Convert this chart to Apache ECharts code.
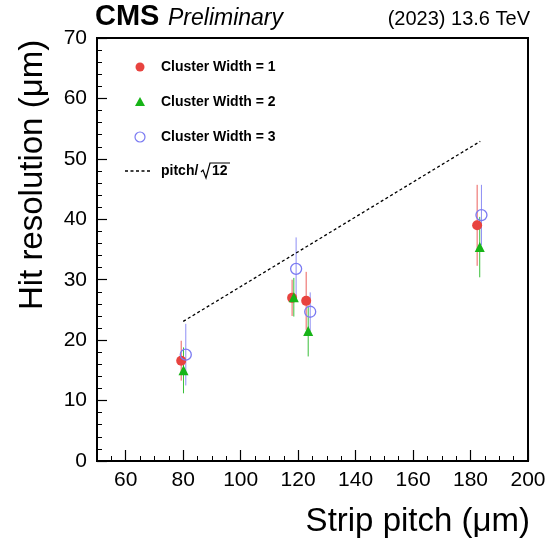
<!DOCTYPE html>
<html>
<head>
<meta charset="utf-8">
<script src="https://cdn.jsdelivr.net/npm/echarts@6/dist/echarts.min.js"></script>
<style>
  html, body { margin: 0; padding: 0; background: #fff; }
  #chart-container { width: 549px; height: 545px; }
</style>
</head>
<body>
<div id="chart-container"></div>
<script>
// cluster width = 1
var cw1X = [79.3, 117.9, 122.8, 182.3];
var cw1Y = [16.6, 27.0, 26.5, 39.0];
var cw1Err = [3.3, 3.0, 4.8, 6.7];
// cluster width = 2
var cw2X = [80.1, 118.5, 123.5, 183.2];
var cw2Y = [15.0, 27.1, 21.5, 35.4];
var cw2Err = [3.8, 3.2, 4.2, 5.0];
// cluster width = 3
var cw3X = [80.9, 119.3, 124.2, 183.8];
var cw3Y = [17.6, 31.8, 24.7, 40.7];
var cw3Err = [5.1, 5.2, 3.2, 5.0];
// pitch/sqrt(12)
var pitchX = [80, 183.4];
var pitchY = [23.1, 52.9];

var xMajorTicks = [60, 80, 100, 120, 140, 160, 180, 200];
var legendNames = ['Cluster Width = 1', 'Cluster Width = 2', 'Cluster Width = 3', 'pitch/\u221A12'];

var RED = '#e8433f', GREEN = '#17b417', BLUE = '#7a7af2';
var FONT = 'Liberation Sans, Arial, sans-serif';

var myChart = echarts.init(document.getElementById('chart-container'));

var errData = function (xs, ys, es) {
    return xs.map(function (x, i) { return [x, ys[i] - es[i], ys[i] + es[i]]; });
};
var pts = function (xs, ys) {
    return xs.map(function (x, i) { return [x, ys[i]]; });
};
var errSeries = function (xs, ys, es, color) {
    return {
        type: 'custom',
        xAxisIndex: 0,
        z: 1,
        silent: true,
        encode: { x: 0, y: [1, 2] },
        data: errData(xs, ys, es),
        renderItem: function (params, api) {
            var p1 = api.coord([api.value(0), api.value(1)]);
            var p2 = api.coord([api.value(0), api.value(2)]);
            return {
                type: 'line',
                shape: { x1: p1[0], y1: p1[1], x2: p2[0], y2: p2[1] },
                style: { stroke: color, lineWidth: 1, opacity: 0.85 }
            };
        }
    };
};

// legend drawn by hand
var legendRows = [67, 102, 137, 171];
var legendGraphics = [
    { type: 'circle', shape: { cx: 140, cy: legendRows[0], r: 4.5 }, style: { fill: RED } },
    { type: 'polygon', shape: { points: [[140, legendRows[1] - 5], [135, legendRows[1] + 4], [145, legendRows[1] + 4]] }, style: { fill: GREEN } },
    { type: 'circle', shape: { cx: 140, cy: legendRows[2], r: 5 }, style: { fill: 'none', stroke: BLUE, lineWidth: 1.2 } },
    { type: 'line', shape: { x1: 125, y1: legendRows[3], x2: 152, y2: legendRows[3] }, style: { stroke: '#000', lineWidth: 1.3, lineDash: [3, 2.5] } },
    // square root sign for the last entry
    { type: 'polyline', shape: { points: [[201, legendRows[3] + 1], [203, legendRows[3] - 1], [206, legendRows[3] + 7], [210, legendRows[3] - 8], [230, legendRows[3] - 8]] }, style: { stroke: '#000', lineWidth: 1.2, fill: null } }
];
[legendNames[0], legendNames[1], legendNames[2], 'pitch/'].forEach(function (name, i) {
    legendGraphics.push({
        type: 'text', x: 161, y: legendRows[i],
        style: { text: name, font: 'bold 14px ' + FONT, fill: '#000', textVerticalAlign: 'middle' }
    });
});
legendGraphics.push({
    type: 'text', x: 212, y: legendRows[3],
    style: { text: '12', font: 'bold 14px ' + FONT, fill: '#000', textVerticalAlign: 'middle' }
});

var option = {
    animation: false,
    backgroundColor: '#fff',
    grid: {
        left: 97, top: 38, right: 21, bottom: 84,
        show: true, borderColor: '#000', borderWidth: 2, backgroundColor: 'transparent'
    },
    xAxis: [{
        type: 'value', min: 50, max: 200,
        axisLine: { show: true, onZero: false, lineStyle: { color: '#000', width: 2 } },
        axisTick: { show: true, inside: true, length: 11, customValues: xMajorTicks, lineStyle: { color: '#000', width: 1.2 } },
        axisLabel: { customValues: xMajorTicks, color: '#000', fontSize: 21, fontFamily: FONT, margin: 9 },
        splitLine: { show: false }
    }, {
        type: 'value', min: 50, max: 200, interval: 5, position: 'bottom',
        axisLine: { show: false },
        axisTick: { show: true, inside: true, length: 5, lineStyle: { color: '#000', width: 1 } },
        axisLabel: { show: false },
        splitLine: { show: false }
    }],
    yAxis: {
        type: 'value', min: 0, max: 70, interval: 10,
        axisLine: { show: true, onZero: false, lineStyle: { color: '#000', width: 2 } },
        axisTick: { show: true, inside: true, length: 10, lineStyle: { color: '#000', width: 1.2 } },
        minorTick: { show: true, splitNumber: 5, length: 5, lineStyle: { color: '#000', width: 1 } },
        axisLabel: { color: '#000', fontSize: 21, fontFamily: FONT, margin: 10 },
        splitLine: { show: false }
    },
    graphic: [
        { type: 'text', x: 95, y: 17, style: { text: 'CMS', font: 'bold 29px ' + FONT, fill: '#000', textVerticalAlign: 'middle' } },
        { type: 'text', x: 168, y: 19, style: { text: 'Preliminary', font: 'italic 23px ' + FONT, fill: '#000', textVerticalAlign: 'middle' } },
        { type: 'text', x: 530, y: 19, style: { text: '(2023) 13.6 TeV', font: '20px ' + FONT, fill: '#000', textAlign: 'right', textVerticalAlign: 'middle' } },
        { type: 'text', x: 530, y: 522, style: { text: 'Strip pitch (\u03BCm)', font: '33px ' + FONT, fill: '#000', textAlign: 'right', textVerticalAlign: 'middle' } },
        { type: 'text', x: 33, y: 175, rotation: Math.PI / 2, style: { text: 'Hit resolution (\u03BCm)', font: '33px ' + FONT, fill: '#000', textAlign: 'center', textVerticalAlign: 'middle' } }
    ].concat(legendGraphics),
    series: [
        {
            name: legendNames[3], type: 'line', xAxisIndex: 0, z: 1,
            data: pts(pitchX, pitchY), showSymbol: false, symbol: 'none',
            lineStyle: { color: '#000', width: 1.3, type: [3, 2.5] }
        },
        errSeries(cw1X, cw1Y, cw1Err, RED),
        errSeries(cw2X, cw2Y, cw2Err, GREEN),
        errSeries(cw3X, cw3Y, cw3Err, BLUE),
        {
            name: legendNames[0], type: 'scatter', xAxisIndex: 0, z: 3,
            data: pts(cw1X, cw1Y), symbol: 'circle', symbolSize: 10,
            itemStyle: { color: RED, opacity: 1 }
        },
        {
            name: legendNames[1], type: 'scatter', xAxisIndex: 0, z: 3,
            data: pts(cw2X, cw2Y), symbol: 'triangle', symbolSize: 10,
            itemStyle: { color: GREEN, opacity: 1 }
        },
        {
            name: legendNames[2], type: 'scatter', xAxisIndex: 0, z: 3,
            data: pts(cw3X, cw3Y), symbol: 'circle', symbolSize: 11,
            itemStyle: { color: 'rgba(255,255,255,0)', borderColor: BLUE, borderWidth: 1.3, opacity: 1 }
        }
    ]
};
myChart.setOption(option);
</script>
</body>
</html>
